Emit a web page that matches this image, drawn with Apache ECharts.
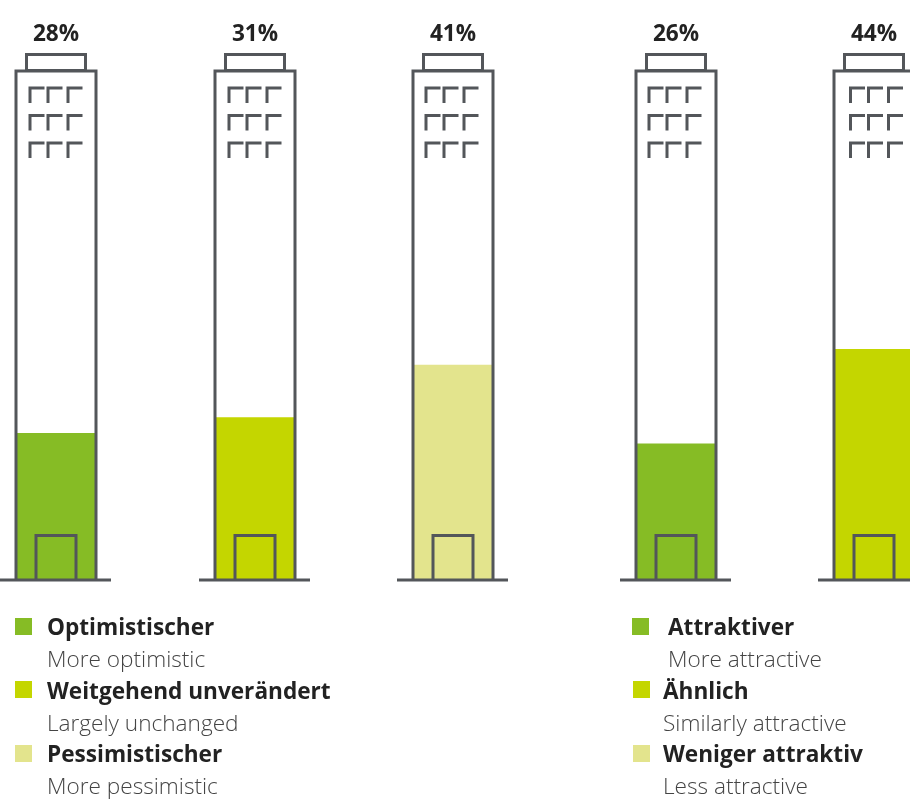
<!DOCTYPE html>
<html><head><meta charset="utf-8">
<style>html,body{margin:0;padding:0;background:#fff}#c{width:910px;height:802px}</style>
<script src="https://cdn.jsdelivr.net/npm/echarts@6/dist/echarts.min.js"></script>
</head><body><div id="c"></div>
<script>
const categoriesA = ['Optimistischer','Weitgehend unverändert','Pessimistischer'];
const valuesA = [28,31,41];
const categoriesB = ['Attraktiver','Ähnlich','Weniger attraktiv'];
const valuesB = [26,44];
const categoriesBShown = ['Attraktiver','Ähnlich'];
const subLabelsA = ['More optimistic','Largely unchanged','More pessimistic'];
const subLabelsB = ['More attractive','Similarly attractive','Less attractive'];
const colors = ['#86bc25','#c4d600','#e3e48d'];
const colorsB = ['#86bc25','#c4d600'];
const LINE = '#53565a';
const windowShiftA = [1,1,0];
const windowShiftB = [0,3.5];

const chart = echarts.init(document.getElementById('c'), null, {renderer:'canvas'});

function towerFor(shifts) {
  return function (params, api) {
    const cat = api.value(0), v = api.value(1);
    const top = api.coord([cat, 100]), base = api.coord([cat, 0]);
    const cx = Math.round(top[0]), y0 = top[1], yb = base[1];
    const s = {stroke: LINE, lineWidth: 3, fill: 'none'};
    const kids = [];
    const poly = (pts) => ({type:'polyline', shape:{points:pts}, style:s, silent:true});
    kids.push({type:'rect', shape:{x:cx-29.5,y:y0-0.5,width:59,height:16}, style:s});
    kids.push(poly([[cx-40,yb],[cx-40,y0+16],[cx+40,y0+16],[cx+40,yb]]));
    kids.push(poly([[cx-20,yb],[cx-20,y0+480.5],[cx+20,y0+480.5],[cx+20,yb]]));
    [32,59.5,87].forEach(r => {
      [-27,-9,11].forEach(c => {
        const wx = cx + c + shifts[cat];
        kids.push(poly([[wx,y0+r+16],[wx,y0+r+1],[wx+14.5,y0+r+1]]));
      });
    });
    kids.push({type:'line', shape:{x1:cx-56,y1:yb,x2:cx+55,y2:yb}, style:{stroke:LINE,lineWidth:3}});
    kids.push({type:'text', style:{text:v+'%', x:cx, y:y0-20, align:'center', verticalAlign:'middle',
      font:'700 22.6px "Open Sans", sans-serif', fill:'#222'}});
    return {type:'group', children:kids};
  };
}

function barSeries(vals, cols, idx) {
  return {type:'bar', xAxisIndex:idx, yAxisIndex:idx, barWidth:79, z:2, silent:true,
    data: vals.map((v,i)=>({value:v,itemStyle:{color:cols[i]}}))};
}
function towerSeries(vals, idx, shifts) {
  return {type:'custom', xAxisIndex:idx, yAxisIndex:idx, z:5, silent:true, clip:false,
    renderItem:towerFor(shifts), encode:{x:0,y:1}, data: vals.map((v,i)=>[i,v])};
}

function legendItems(names, subs, cols, sqX, txtX) {
  const rows = [618,681,745];
  const textRows = [618,682,745];
  const out = [];
  names.forEach((n,i)=>{
    out.push({type:'rect', shape:{x:sqX[i],y:rows[i],width:17,height:17}, style:{fill:cols[i]}});
    out.push({type:'text', x:txtX[i], y:textRows[i]+10.5, style:{text:n, font:'700 22.6px "Open Sans", sans-serif', fill:'#222', verticalAlign:'middle'}});
    out.push({type:'text', x:txtX[i], y:textRows[i]+42.5, style:{text:subs[i], font:'300 22.6px "Open Sans", sans-serif', fill:'#444', verticalAlign:'middle'}});
  });
  return out;
}

chart.setOption({
  animation:false,
  backgroundColor:'#fff',
  grid:[
    {left:-43, width:595.5, top:55, bottom:222, outerBoundsMode:'none'},
    {left:577, width:396, top:55, bottom:222, outerBoundsMode:'none'}
  ],
  xAxis:[
    {type:'category', gridIndex:0, data:categoriesA, show:false},
    {type:'category', gridIndex:1, data:categoriesBShown, show:false}
  ],
  yAxis:[
    {type:'value', gridIndex:0, min:0, max:100, show:false},
    {type:'value', gridIndex:1, min:0, max:100, show:false}
  ],
  series:[
    barSeries(valuesA, colors, 0), towerSeries(valuesA, 0, windowShiftA),
    barSeries(valuesB, colorsB, 1), towerSeries(valuesB, 1, windowShiftB)
  ],
  graphic:{elements:[
    ...legendItems(categoriesA, subLabelsA, colors, [15,15,15], [47,47,47]),
    ...legendItems(categoriesB, subLabelsB, colors, [632,633,633], [668,663,663])
  ]}
});
</script></body></html>
